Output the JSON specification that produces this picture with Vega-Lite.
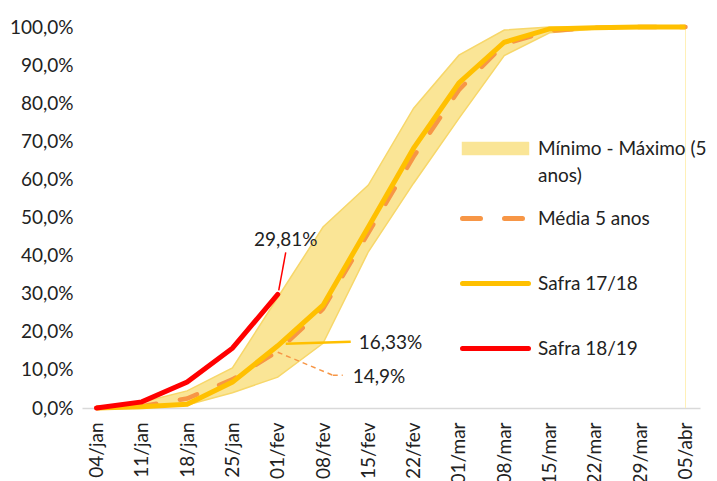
{
  "$schema": "https://vega.github.io/schema/vega-lite/v6.json",
  "width": 618,
  "height": 381,
  "autosize": {"type": "none"},
  "padding": {"left": 82, "top": 27, "right": 17, "bottom": 73},
  "background": "white",
  "config": {
    "locale": {"number": {"decimal": ",", "thousands": ".", "grouping": [3], "currency": ["R$", ""]}},
    "view": {"stroke": null},
    "font": "Lato",
    "axis": {"labelFont": "Lato", "labelFontSize": 19, "labelColor": "#222222", "grid": false, "ticks": false, "tickSize": 0}
  },
  "datasets": {
    "band": [
      {"semana": "04/jan", "min": 0, "max": 0},
      {"semana": "11/jan", "min": 0, "max": 0.015},
      {"semana": "18/jan", "min": 0.008, "max": 0.045},
      {"semana": "25/jan", "min": 0.04, "max": 0.105},
      {"semana": "01/fev", "min": 0.081, "max": 0.29},
      {"semana": "08/fev", "min": 0.17, "max": 0.475},
      {"semana": "15/fev", "min": 0.41, "max": 0.585},
      {"semana": "22/fev", "min": 0.59, "max": 0.787},
      {"semana": "01/mar", "min": 0.76, "max": 0.926},
      {"semana": "08/mar", "min": 0.925, "max": 0.992},
      {"semana": "15/mar", "min": 0.985, "max": 1},
      {"semana": "22/mar", "min": 0.995, "max": 1},
      {"semana": "29/mar", "min": 1, "max": 1},
      {"semana": "05/abr", "min": 1, "max": 1}
    ],
    "series": [
      {"semana": "04/jan", "serie": "Média 5 anos", "valor": 0},
      {"semana": "11/jan", "serie": "Média 5 anos", "valor": 0.005},
      {"semana": "18/jan", "serie": "Média 5 anos", "valor": 0.025},
      {"semana": "25/jan", "serie": "Média 5 anos", "valor": 0.075},
      {"semana": "01/fev", "serie": "Média 5 anos", "valor": 0.149},
      {"semana": "08/fev", "serie": "Média 5 anos", "valor": 0.26},
      {"semana": "15/fev", "serie": "Média 5 anos", "valor": 0.46},
      {"semana": "22/fev", "serie": "Média 5 anos", "valor": 0.66},
      {"semana": "01/mar", "serie": "Média 5 anos", "valor": 0.835},
      {"semana": "08/mar", "serie": "Média 5 anos", "valor": 0.955},
      {"semana": "15/mar", "serie": "Média 5 anos", "valor": 0.99},
      {"semana": "22/mar", "serie": "Média 5 anos", "valor": 0.998},
      {"semana": "29/mar", "serie": "Média 5 anos", "valor": 1},
      {"semana": "05/abr", "serie": "Média 5 anos", "valor": 1},
      {"semana": "04/jan", "serie": "Safra 17/18", "valor": 0},
      {"semana": "11/jan", "serie": "Safra 17/18", "valor": 0.003},
      {"semana": "18/jan", "serie": "Safra 17/18", "valor": 0.01},
      {"semana": "25/jan", "serie": "Safra 17/18", "valor": 0.068},
      {"semana": "01/fev", "serie": "Safra 17/18", "valor": 0.1633},
      {"semana": "08/fev", "serie": "Safra 17/18", "valor": 0.27},
      {"semana": "15/fev", "serie": "Safra 17/18", "valor": 0.475},
      {"semana": "22/fev", "serie": "Safra 17/18", "valor": 0.682},
      {"semana": "01/mar", "serie": "Safra 17/18", "valor": 0.853},
      {"semana": "08/mar", "serie": "Safra 17/18", "valor": 0.96},
      {"semana": "15/mar", "serie": "Safra 17/18", "valor": 0.995},
      {"semana": "22/mar", "serie": "Safra 17/18", "valor": 0.998},
      {"semana": "29/mar", "serie": "Safra 17/18", "valor": 1},
      {"semana": "05/abr", "serie": "Safra 17/18", "valor": 1},
      {"semana": "04/jan", "serie": "Safra 18/19", "valor": 0},
      {"semana": "11/jan", "serie": "Safra 18/19", "valor": 0.016},
      {"semana": "18/jan", "serie": "Safra 18/19", "valor": 0.068},
      {"semana": "25/jan", "serie": "Safra 18/19", "valor": 0.157},
      {"semana": "01/fev", "serie": "Safra 18/19", "valor": 0.2981}
    ]
  },
  "encoding": {
    "x": {
      "field": "semana",
      "type": "ordinal",
      "scale": {"type": "point", "padding": 0.32, "domain": ["04/jan", "11/jan", "18/jan", "25/jan", "01/fev", "08/fev", "15/fev", "22/fev", "01/mar", "08/mar", "15/mar", "22/mar", "29/mar", "05/abr"]},
      "axis": {"labelAngle": -90, "labelPadding": 14, "domainColor": "#D9D9D9", "domainWidth": 1.5, "title": null}
    }
  },
  "layer": [
    {
      "data": {"name": "band"},
      "mark": {"type": "area", "fill": "#FAE596", "stroke": "#F7D76A", "strokeWidth": 1.5},
      "encoding": {
        "y": {"field": "min", "type": "quantitative", "scale": {"domain": [0, 1]}, "axis": {"format": ".1%", "tickCount": 10, "title": null, "domain": false, "labelPadding": 9}},
        "y2": {"field": "max"}
      }
    },
    {
      "data": {"name": "band"},
      "transform": [{"filter": "datum.semana == '05/abr'"}],
      "mark": {"type": "rule", "color": "#FFF0B8", "strokeWidth": 1},
      "encoding": {}
    },
    {
      "data": {"name": "series"},
      "transform": [{"filter": "datum.serie == 'Média 5 anos'"}],
      "mark": {"type": "line", "strokeWidth": 4.5, "strokeDash": [18, 24], "strokeCap": "round"},
      "encoding": {
        "y": {"field": "valor", "type": "quantitative", "axis": {"format": ".1%", "tickCount": 10, "title": null, "domain": false, "labelPadding": 9}},
        "color": {
          "field": "serie",
          "type": "nominal",
          "scale": {"domain": ["Mínimo - Máximo (5 anos)", "Média 5 anos", "Safra 17/18", "Safra 18/19"], "range": ["#FAE596", "#F79646", "#FFC000", "#FF0000"]},
          "legend": {
            "title": null,
            "orient": "none",
            "legendX": 378,
            "legendY": 89,
            "padding": 0,
            "clipHeight": 65,
            "rowPadding": 0,
            "symbolSize": 1089,
            "symbolStrokeWidth": 5,
            "symbolOffset": 26,
            "labelFont": "Lato",
            "labelFontSize": 19,
            "labelColor": "#222222",
            "labelLimit": 400,
            "labelOffset": 33,
            "labelExpr": "datum.label == 'Mínimo - Máximo (5 anos)' ? ['Mínimo - Máximo (5', 'anos)'] : datum.label",
            "encode": {
              "symbols": {
                "update": {
                  "shape": {"signal": "datum.value == 'Mínimo - Máximo (5 anos)' ? 'M-2,-0.36H2V0.36H-2Z' : 'M-2,0H2'"},
                  "fill": {"signal": "datum.value == 'Mínimo - Máximo (5 anos)' ? '#FAE596' : 'transparent'"},
                  "stroke": {"signal": "datum.value == 'Mínimo - Máximo (5 anos)' ? '#F7D76A' : datum.value == 'Média 5 anos' ? '#F79646' : datum.value == 'Safra 17/18' ? '#FFC000' : '#FF0000'"},
                  "strokeWidth": {"signal": "datum.value == 'Mínimo - Máximo (5 anos)' ? 1.5 : 5"},
                  "strokeDash": {"signal": "datum.value == 'Média 5 anos' ? [18, 24] : [1, 0]"},
                  "strokeCap": {"value": "round"},
                  "size": {"value": 1089},
                  "opacity": {"value": 1}
                }
              },
              "labels": {"update": {"lineHeight": {"value": 27}}}
            }
          }
        }
      }
    },
    {
      "data": {"name": "series"},
      "transform": [{"filter": "datum.serie == 'Safra 17/18'"}],
      "mark": {"type": "line", "strokeWidth": 5},
      "encoding": {
        "y": {"field": "valor", "type": "quantitative"},
        "color": {"field": "serie", "type": "nominal"}
      }
    },
    {
      "data": {"name": "series"},
      "transform": [{"filter": "datum.serie == 'Safra 18/19'"}],
      "mark": {"type": "line", "strokeWidth": 5, "strokeCap": "round"},
      "encoding": {
        "y": {"field": "valor", "type": "quantitative"},
        "color": {"field": "serie", "type": "nominal"}
      }
    },
    {
      "data": {"name": "series"},
      "transform": [{"filter": "datum.serie == 'Safra 18/19' && datum.semana == '01/fev'"}],
      "layer": [
        {
          "mark": {"type": "rule", "color": "#FF0000", "strokeWidth": 1.5, "xOffset": 1, "yOffset": -4, "x2Offset": 8, "y2Offset": -42},
          "encoding": {"y": {"field": "valor", "type": "quantitative"}, "x2": {"field": "semana"}, "y2": {"field": "valor"}}
        },
        {
          "mark": {"type": "text", "font": "Lato", "fontSize": 19, "color": "#222222", "align": "center", "baseline": "middle", "dx": 8, "dy": -54},
          "encoding": {"y": {"field": "valor", "type": "quantitative"}, "text": {"field": "valor", "type": "quantitative", "format": ".2%"}}
        }
      ]
    },
    {
      "data": {"name": "series"},
      "transform": [{"filter": "datum.serie == 'Safra 17/18' && datum.semana == '01/fev'"}],
      "layer": [
        {
          "mark": {"type": "rule", "color": "#FFC000", "strokeWidth": 2.5, "xOffset": 8, "yOffset": -2, "x2Offset": 73, "y2Offset": -4},
          "encoding": {"y": {"field": "valor", "type": "quantitative"}, "x2": {"field": "semana"}, "y2": {"field": "valor"}}
        },
        {
          "mark": {"type": "text", "font": "Lato", "fontSize": 19, "color": "#222222", "align": "left", "baseline": "middle", "dx": 81, "dy": -3},
          "encoding": {"y": {"field": "valor", "type": "quantitative"}, "text": {"field": "valor", "type": "quantitative", "format": ".2%"}}
        }
      ]
    },
    {
      "data": {"name": "series"},
      "transform": [{"filter": "datum.serie == 'Média 5 anos' && datum.semana == '01/fev'"}],
      "layer": [
        {
          "mark": {"type": "rule", "color": "#F79646", "strokeWidth": 1.5, "strokeDash": [5, 4], "xOffset": 0, "yOffset": 1, "x2Offset": 55, "y2Offset": 24},
          "encoding": {"y": {"field": "valor", "type": "quantitative"}, "x2": {"field": "semana"}, "y2": {"field": "valor"}}
        },
        {
          "mark": {"type": "rule", "color": "#F79646", "strokeWidth": 1.5, "strokeDash": [5, 4], "xOffset": 55, "yOffset": 24, "x2Offset": 65, "y2Offset": 24},
          "encoding": {"y": {"field": "valor", "type": "quantitative"}, "x2": {"field": "semana"}, "y2": {"field": "valor"}}
        },
        {
          "mark": {"type": "text", "font": "Lato", "fontSize": 19, "color": "#222222", "align": "left", "baseline": "middle", "dx": 75, "dy": 26},
          "encoding": {"y": {"field": "valor", "type": "quantitative"}, "text": {"field": "valor", "type": "quantitative", "format": ".1%"}}
        }
      ]
    }
  ]
}
